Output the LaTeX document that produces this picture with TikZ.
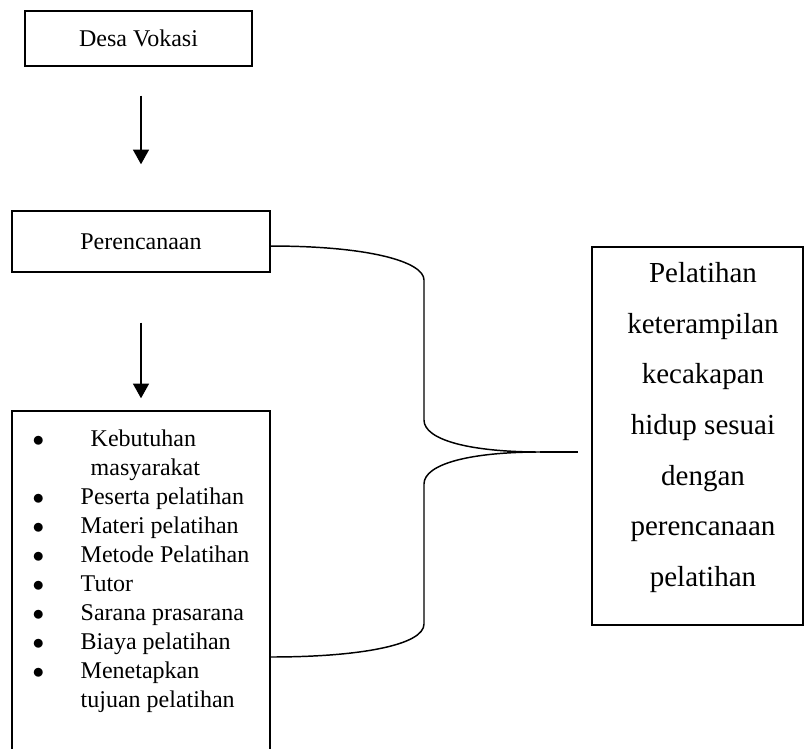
\documentclass[tikz,border=0pt]{standalone}
\usepackage{fontspec}
\setmainfont{Liberation Serif}
\usetikzlibrary{arrows.meta}

\begin{document}
\begin{tikzpicture}[x=0.75pt,y=-0.75pt,line width=1.1pt,
  box/.style={draw,inner sep=0pt,font=\fontsize{18pt}{21.75pt}\selectfont},
  arr/.style={-{Triangle[width=12pt,length=11pt]}}]
  \useasboundingbox (0,0) rectangle (804,749);
  \clip (0,0) rectangle (804,749);
  \node[box,minimum width=170.25pt,minimum height=41.25pt] (desa) at (138.5,38.5) {Desa Vokasi};
  \node[box,minimum width=193.5pt,minimum height=45.75pt] (per) at (141,241.5) {Perencanaan};
  \node[box,minimum width=193.5pt,minimum height=369pt] (lst) at (141,657) {};
  \node[anchor=north west,inner sep=0pt,font=\fontsize{18pt}{21.75pt}\selectfont] (items) at (32,425) {%
    \begin{tabular}{@{}p{36pt}@{}l@{}}
      $\bullet$ & \hspace{7.5pt}Kebutuhan\\
                & \hspace{7.5pt}masyarakat\\
      $\bullet$ & Peserta pelatihan\\
      $\bullet$ & Materi pelatihan\\
      $\bullet$ & Metode Pelatihan\\
      $\bullet$ & Tutor\\
      $\bullet$ & Sarana prasarana\\
      $\bullet$ & Biaya pelatihan\\
      $\bullet$ & Menetapkan\\
                & tujuan pelatihan
    \end{tabular}};
  \node[box,minimum width=158.25pt,minimum height=283.5pt] (res) at (697.5,436) {};
  \node[align=center,inner sep=0pt,font=\fontsize{21.75pt}{37.9pt}\selectfont] (restxt) at (703,427.5)
    {Pelatihan\\keterampilan\\kecakapan\\hidup sesuai\\dengan\\perencanaan\\pelatihan};
  \draw[arr,shorten <=21.75pt,shorten >=34.5pt] (desa.south -| per.north) -- (per.north);
  \draw[arr,shorten <=37.5pt,shorten >=9pt] (per.south) -- (lst.north);
  \draw ([yshift=-3.4pt]per.east) .. controls (370,246) and (424,262) .. (424,280)
    -- (424,420) .. controls (424,440) and (470,452) .. (540,452) coordinate (tip)
    .. controls (470,452) and (424,464) .. (424,484)
    -- (424,624) .. controls (424,645) and (360,657) .. (lst.east);
  \draw[shorten >=9.75pt] (tip) -- (tip -| res.west);
\end{tikzpicture}
\end{document}
